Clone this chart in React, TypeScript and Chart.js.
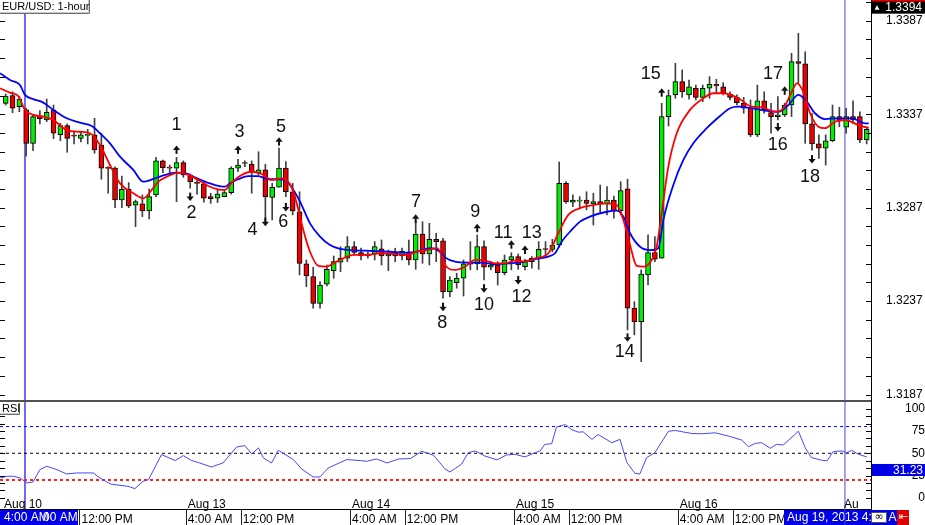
import React, { useEffect, useRef } from 'react';
import { Chart, registerables } from 'chart.js';

Chart.register(...registerables);

// ---------------- data (EUR/USD 1-hour candles, index 0..126) ----------------
const opens = [1.33428,1.33469,1.33410,1.33393,1.33214,1.33360,1.33339,1.33393,1.33260,1.33309,
1.33256,1.33241,1.33257,1.33259,1.33205,1.33081,1.33081,1.32911,1.32968,1.32883,
1.32890,1.32852,1.32938,1.33120,1.33082,1.33081,1.33111,1.33041,1.33001,1.32997,
1.32929,1.32920,1.32929,1.32950,1.33081,1.33106,1.33102,1.33054,1.33072,1.32925,
1.32979,1.33081,1.32955,1.32848,1.32569,1.32501,1.32358,1.32460,1.32533,1.32578,
1.32599,1.32661,1.32629,1.32611,1.32622,1.32649,1.32611,1.32626,1.32611,1.32629,
1.32590,1.32729,1.32622,1.32701,1.32693,1.32420,1.32469,1.32492,1.32569,1.32569,
1.32661,1.32551,1.32563,1.32522,1.32590,1.32608,1.32554,1.32581,1.32599,1.32647,
1.32647,1.32670,1.33000,1.32899,1.32905,1.32911,1.32890,1.32902,1.32890,1.32911,
1.32854,1.32970,1.32332,1.32260,1.32510,1.32629,1.32599,1.33357,1.33473,1.33544,
1.33473,1.33509,1.33460,1.33509,1.33530,1.33517,1.33478,1.33460,1.33428,1.33402,
1.33259,1.33441,1.33378,1.33357,1.33366,1.33419,1.33651,1.33639,1.33318,1.33211,
1.33188,1.33228,1.33357,1.33300,1.33357,1.33357,1.33232];

const highs = [1.33478,1.33490,1.33464,1.33402,1.33366,1.33389,1.33451,1.33419,1.33321,1.33318,
1.33280,1.33276,1.33289,1.33348,1.33268,1.33089,1.33089,1.33039,1.33004,1.32911,
1.32938,1.32970,1.33139,1.33125,1.33098,1.33139,1.33120,1.33050,1.33027,1.33009,
1.32947,1.32965,1.32965,1.33089,1.33129,1.33120,1.33120,1.33169,1.33102,1.33000,
1.33188,1.33116,1.33000,1.32955,1.32590,1.32551,1.32474,1.32563,1.32611,1.32661,
1.32715,1.32688,1.32653,1.32634,1.32688,1.32697,1.32643,1.32653,1.32653,1.32697,
1.32795,1.32795,1.32786,1.32733,1.32706,1.32501,1.32519,1.32590,1.32688,1.32724,
1.32693,1.32581,1.32581,1.32617,1.32629,1.32622,1.32594,1.32608,1.32688,1.32688,
1.32701,1.33114,1.33009,1.32938,1.32929,1.32955,1.32947,1.32991,1.32982,1.32932,
1.33009,1.33022,1.32367,1.32537,1.32724,1.32715,1.33428,1.33500,1.33642,1.33607,
1.33553,1.33526,1.33526,1.33571,1.33557,1.33539,1.33490,1.33473,1.33460,1.33446,
1.33526,1.33490,1.33428,1.33464,1.33428,1.33696,1.33803,1.33704,1.33375,1.33259,
1.33259,1.33419,1.33407,1.33402,1.33441,1.33383,1.33303];

const lows = [1.33419,1.33378,1.33383,1.33146,1.33175,1.33318,1.33330,1.33239,1.33228,1.33166,
1.33211,1.33221,1.33211,1.33161,1.33022,1.32947,1.32870,1.32870,1.32870,1.32768,
1.32822,1.32809,1.32929,1.33057,1.33054,1.32902,1.33032,1.32974,1.32942,1.32899,
1.32893,1.32897,1.32929,1.32942,1.33062,1.33089,1.32947,1.33045,1.32790,1.32804,
1.32979,1.32929,1.32831,1.32510,1.32447,1.32332,1.32332,1.32451,1.32492,1.32527,
1.32581,1.32617,1.32590,1.32599,1.32590,1.32563,1.32533,1.32581,1.32590,1.32563,
1.32540,1.32572,1.32563,1.32581,1.32385,1.32394,1.32439,1.32397,1.32537,1.32537,
1.32483,1.32537,1.32456,1.32510,1.32537,1.32540,1.32537,1.32546,1.32540,1.32604,
1.32634,1.32658,1.32893,1.32875,1.32867,1.32858,1.32777,1.32840,1.32831,1.32813,
1.32831,1.32216,1.32189,1.32046,1.32456,1.32581,1.32599,1.33307,1.33455,1.33460,
1.33450,1.33446,1.33437,1.33455,1.33482,1.33473,1.33446,1.33419,1.33375,1.33250,
1.33250,1.33375,1.33268,1.33339,1.33357,1.33357,1.33535,1.33214,1.33178,1.33134,
1.33098,1.33223,1.33303,1.33268,1.33321,1.33218,1.33211];

const closes = [1.33467,1.33402,1.33451,1.33214,1.33357,1.33346,1.33380,1.33268,1.33309,1.33241,
1.33253,1.33259,1.33259,1.33179,1.33081,1.33080,1.32911,1.32968,1.32879,1.32902,
1.32852,1.32929,1.33120,1.33084,1.33081,1.33111,1.33045,1.33009,1.33000,1.32920,
1.32918,1.32942,1.32950,1.33081,1.33098,1.33107,1.33059,1.33072,1.32929,1.32979,
1.33081,1.32955,1.32852,1.32572,1.32504,1.32358,1.32456,1.32540,1.32581,1.32599,
1.32661,1.32631,1.32611,1.32622,1.32661,1.32611,1.32622,1.32611,1.32638,1.32590,
1.32729,1.32622,1.32701,1.32688,1.32420,1.32483,1.32492,1.32569,1.32568,1.32661,
1.32551,1.32563,1.32522,1.32590,1.32608,1.32563,1.32581,1.32599,1.32647,1.32646,
1.32670,1.33000,1.32902,1.32911,1.32906,1.32893,1.32902,1.32890,1.32911,1.32854,
1.32961,1.32332,1.32260,1.32514,1.32629,1.32594,1.33357,1.33469,1.33544,1.33490,
1.33517,1.33460,1.33509,1.33530,1.33521,1.33482,1.33460,1.33432,1.33402,1.33259,
1.33441,1.33393,1.33357,1.33366,1.33419,1.33651,1.33642,1.33318,1.33211,1.33188,
1.33228,1.33357,1.33339,1.33357,1.33339,1.33232,1.33289];

// moving averages: [candle index, price]
const emaFast: [number, number][] = [[-0.83,1.33509],[0.63,1.33485],[1.84,1.33467],[2.82,1.33393],[4.04,1.33366],[5.5,1.33357],[6.97,1.33339],[8.93,1.33285],[10.87,1.33276],[12.34,1.33268],[13.8,1.33205],[15.26,1.33098],[16.73,1.33000],[18.67,1.32947],[20.14,1.32920],[21.37,1.32965],[22.33,1.33009],[23.8,1.33039],[25.26,1.33057],[26.72,1.33045],[28.19,1.33018],[29.65,1.32986],[31.11,1.32968],[32.09,1.32965],[33.07,1.33004],[34.54,1.33045],[36.0,1.33062],[37.47,1.33050],[38.93,1.33018],[40.39,1.33027],[41.86,1.32979],[42.59,1.32893],[43.55,1.32750],[44.53,1.32634],[45.75,1.32558],[46.98,1.32554],[47.94,1.32572],[49.41,1.32599],[50.87,1.32617],[52.83,1.32617],[54.78,1.32626],[56.73,1.32622],[58.69,1.32617],[60.15,1.32634],[61.61,1.32643],[63.08,1.32653],[63.56,1.32634],[64.29,1.32563],[65.76,1.32537],[67.22,1.32554],[68.68,1.32590],[70.15,1.32586],[71.61,1.32572],[73.07,1.32572],[74.54,1.32586],[76.0,1.32581],[77.46,1.32599],[79.41,1.32626],[80.87,1.32733],[82.33,1.32831],[84.05,1.32867],[85.99,1.32884],[87.95,1.32893],[89.42,1.32884],[90.39,1.32804],[91.37,1.32670],[92.35,1.32558],[93.31,1.32554],[94.54,1.32590],[95.27,1.32661],[96.0,1.32840],[96.97,1.33089],[98.2,1.33268],[100.15,1.33393],[102.1,1.33455],[103.56,1.33482],[105.02,1.33482],[107.22,1.33455],[109.18,1.33410],[110.64,1.33407],[112.59,1.33383],[113.81,1.33402],[115.03,1.33490],[115.76,1.33535],[116.73,1.33490],[117.71,1.33375],[118.93,1.33303],[119.9,1.33295],[121.37,1.33330],[122.83,1.33339],[124.78,1.33312],[126.3,1.33295]];

const emaSlow: [number, number][] = [[-0.83,1.33589],[0.63,1.33553],[2.09,1.33526],[2.82,1.33473],[4.04,1.33451],[5.5,1.33432],[6.97,1.33393],[8.93,1.33348],[10.87,1.33325],[12.59,1.33307],[13.8,1.33268],[15.26,1.33214],[16.73,1.33143],[18.67,1.33072],[20.14,1.33009],[21.85,1.33027],[23.31,1.33045],[24.78,1.33057],[26.24,1.33054],[27.7,1.33032],[29.17,1.33009],[30.63,1.32991],[32.09,1.32982],[32.83,1.33000],[34.04,1.33022],[35.5,1.33039],[36.97,1.33039],[38.43,1.33022],[39.89,1.33022],[40.88,1.33018],[41.61,1.32991],[43.07,1.32902],[44.53,1.32786],[46.0,1.32715],[47.46,1.32670],[48.92,1.32649],[50.39,1.32643],[53.8,1.32638],[56.24,1.32634],[58.69,1.32629],[60.15,1.32634],[62.1,1.32653],[63.56,1.32634],[64.29,1.32604],[65.76,1.32581],[67.7,1.32576],[69.66,1.32576],[71.61,1.32567],[73.56,1.32572],[75.52,1.32578],[77.46,1.32594],[79.41,1.32608],[80.39,1.32626],[81.37,1.32688],[82.83,1.32751],[84.05,1.32795],[85.5,1.32822],[87.96,1.32848],[89.42,1.32854],[90.39,1.32822],[91.37,1.32733],[92.83,1.32661],[94.29,1.32643],[95.5,1.32653],[96.24,1.32804],[97.7,1.32991],[99.17,1.33125],[100.63,1.33214],[102.59,1.33295],[104.54,1.33360],[106.0,1.33402],[107.22,1.33410],[109.18,1.33402],[111.13,1.33389],[113.07,1.33383],[114.54,1.33419],[116.0,1.33473],[117.23,1.33437],[118.44,1.33375],[119.9,1.33344],[121.85,1.33348],[123.81,1.33348],[125.76,1.33321],[126.3,1.33321]];

// RSI: [candle index, value]
const rsiPoints: [number, number][] = [[-0.8,22.3],[0.2,24.2],[1.1,24.2],[2.1,22.3],[3.1,16.7],[4.0,17.8],[5.0,31.6],[6.0,35.4],[7.5,31.6],[8.9,26.8],[10.4,27.9],[12.8,27.9],[13.8,22.3],[15.3,15.5],[16.7,14.0],[17.9,12.9],[18.9,10.3],[20.1,18.5],[20.9,20.4],[22.8,48.5],[24.8,41.8],[26.0,47.4],[27.2,41.8],[28.4,39.1],[30.1,34.6],[31.8,39.1],[33.8,57.1],[35.0,58.6],[36.0,49.3],[37.0,56.0],[37.7,44.8],[38.9,39.1],[39.9,53.4],[42.1,42.9],[43.3,32.4],[45.0,23.4],[46.0,23.4],[47.2,33.5],[49.9,42.9],[51.9,41.8],[52.8,41.0],[54.3,43.6],[55.8,39.1],[57.5,43.6],[59.2,44.0],[60.9,52.2],[62.6,47.8],[64.3,32.4],[65.0,29.0],[65.8,33.0],[66.7,37.8],[67.7,50.7],[68.7,52.6],[70.1,47.0],[71.9,42.6],[73.3,48.1],[74.5,48.9],[76.0,45.9],[77.5,50.7],[78.2,52.6],[78.9,60.0],[79.9,60.7],[80.6,79.6],[81.9,82.2],[82.8,76.7],[83.8,73.7],[84.5,74.1],[85.8,65.6],[86.7,71.1],[88.7,61.9],[89.9,65.6],[90.9,39.6],[92.1,27.4],[92.8,26.7],[93.8,45.2],[95.0,50.7],[97.0,74.8],[98.0,75.6],[100.4,72.2],[101.9,71.9],[103.8,73.0],[105.8,69.3],[107.7,64.8],[108.7,57.4],[109.7,61.1],[110.6,61.9],[111.9,55.6],[112.8,60.0],[113.8,59.3],[116.0,74.8],[117.0,56.3],[117.9,45.2],[119.4,42.2],[120.2,41.5],[121.1,51.9],[122.4,52.6],[123.1,50.7],[123.8,53.3],[124.8,48.9],[126.0,45.9]];
const rsiLevels = [80, 50, 20];
const rsiLevelColors = ['#0000ff', '#000000', '#ff2020'];
const rsiLevelWidths = [1, 1, 2];
const rsiMarkerValue = 31.23;

// numbered annotations
const annLabels = ['1','2','3','4','5','6','7','8','9','10','11','12','13','14','15','16','17','18'];
const annDirs = ['up','down','up','down','up','down','up','down','up','down','up','down','up','down','up','down','up','down'];
const annArrowIdx = [25,27,34,38,40,41,60,64,69,70,74,75,76,91,96,113,114,118];
const annArrowPrice = [1.33179,1.32929,1.33179,1.32795,1.33223,1.32874,1.32810,1.32340,1.32760,1.32439,1.32672,1.32483,1.32643,1.32176,1.33485,1.33302,1.33495,1.33130];
const annTextIdx = [25.0,27.2,34.2,36.1,40.3,40.6,60.05,63.9,68.7,70.0,72.8,75.5,77.0,90.6,94.4,113.0,112.3,117.7];
const annTextPrice = [1.33312,1.32840,1.33276,1.32751,1.33300,1.32795,1.32902,1.32251,1.32848,1.32349,1.32736,1.32394,1.32736,1.32099,1.33584,1.33205,1.33585,1.33032];

// axes
const priceTickStart = 1.3187;
const priceTickStep = 0.001;
const priceTickCount = 22;
const priceLabels = ['1.3187', '1.3237', '1.3287', '1.3337', '1.3387'];
const priceMarker = 1.3394;
const askMarker = 1.34003;
const rsiTickStep = 100 / 12;
const rsiTickCount = 13;
const rsiLabels = ['0', '25', '50', '75', '100'];
const timeTickIdx = [10.8, 26.35, 34.4, 50.4, 58.4, 74.4, 82.4, 98.35, 106.4];
const timeTickLabels = ['12:00 PM','4:00 AM','12:00 PM','4:00 AM','12:00 PM','4:00 AM','12:00 PM','4:00 AM','12:00 PM'];
const dateLabelIdx = [-0.54, 26.35, 50.4, 74.4, 98.35, 122.4];
const dateLabels = ['Aug 10', 'Aug 13', 'Aug 14', 'Aug 15', 'Aug 16', 'Au'];
const cursorIdx = [2.82, 122.82];
const cursorColors = ['#6a6af0', '#4444ee'];
const cursorWidths = [2, 1];

const X_MIN = -0.834;
const X_MAX = 126.63;
const P_MIN = 1.3183;
const P_MAX = 1.33981;
const R_MIN = -12.6;
const R_MAX = 107.6;
const FONT = '"Liberation Sans", Arial, sans-serif';
const GREEN = '#00ee00';
const RED = '#ee0000';

function drawArrow(ctx: CanvasRenderingContext2D, x: number, y: number, dir: string) {
  ctx.beginPath();
  if (dir === 'up') {
    ctx.moveTo(x, y - 4.5);
    ctx.lineTo(x - 3.6, y);
    ctx.lineTo(x + 3.6, y);
  } else {
    ctx.moveTo(x, y + 4.5);
    ctx.lineTo(x - 3.6, y);
    ctx.lineTo(x + 3.6, y);
  }
  ctx.closePath();
  ctx.fill();
  if (dir === 'up') ctx.fillRect(x - 1, y - 0.5, 2, 4.5);
  else ctx.fillRect(x - 1, y - 4, 2, 4.5);
}

function labelBox(ctx: CanvasRenderingContext2D, x: number, y: number, w: number, h: number, text: string) {
  ctx.fillStyle = '#ffffff';
  ctx.fillRect(x, y, w, h);
  ctx.strokeStyle = '#6e6e6e';
  ctx.lineWidth = 1;
  ctx.beginPath();
  ctx.moveTo(x + w - 0.5, y);
  ctx.lineTo(x + w - 0.5, y + h - 0.5);
  ctx.lineTo(x, y + h - 0.5);
  ctx.stroke();
  ctx.strokeStyle = '#c8c8c8';
  ctx.beginPath();
  ctx.moveTo(x + w - 1.5, y);
  ctx.lineTo(x + w - 1.5, y + h - 1.5);
  ctx.lineTo(x, y + h - 1.5);
  ctx.stroke();
  ctx.fillStyle = '#000';
  ctx.font = '11px ' + FONT;
  ctx.textAlign = 'left';
  ctx.textBaseline = 'middle';
  ctx.fillText(text, x + 2, y + h / 2);
}

function drawCursors(chart: any) {
  const { ctx, chartArea, scales } = chart;
  ctx.save();
  cursorIdx.forEach((k, i) => {
    const x = scales.x.getPixelForValue(k);
    ctx.strokeStyle = cursorColors[i];
    ctx.lineWidth = cursorWidths[i];
    ctx.beginPath();
    ctx.moveTo(x, chartArea.top);
    ctx.lineTo(x, chartArea.bottom);
    ctx.stroke();
  });
  ctx.restore();
}

const mainDecor = {
  id: 'mainDecor',
  beforeDatasetsDraw(chart: any) {
    drawCursors(chart);
  },
  afterDraw(chart: any) {
    const { ctx, chartArea, scales } = chart;
    const ys = scales.y;
    const xs = scales.x;
    ctx.save();
    ctx.fillStyle = '#000';
    for (let j = 0; j < priceTickCount; j++) {
      const y = Math.round(ys.getPixelForValue(priceTickStart + j * priceTickStep));
      ctx.fillRect(0, y, 5, 1);
      ctx.fillRect(chartArea.right - 5, y, 5, 1);
    }
    ctx.fillStyle = '#505050';
    ctx.fillRect(0, chartArea.bottom - 2, chartArea.right, 2);
    ctx.fillStyle = '#111';
    annLabels.forEach((t, i) => {
      drawArrow(ctx, xs.getPixelForValue(annArrowIdx[i]), ys.getPixelForValue(annArrowPrice[i]), annDirs[i]);
    });
    ctx.font = '18px ' + FONT;
    ctx.textAlign = 'center';
    ctx.textBaseline = 'middle';
    annLabels.forEach((t, i) => {
      ctx.fillText(t, xs.getPixelForValue(annTextIdx[i]), ys.getPixelForValue(annTextPrice[i]));
    });
    labelBox(ctx, 0, 0, 90, 14, 'EUR/USD: 1-hour');
    const ya = ys.getPixelForValue(askMarker);
    ctx.fillStyle = '#e00000';
    ctx.fillRect(chartArea.right + 1, ya - 6.5, 54, 13);
    ctx.fillStyle = '#fff';
    ctx.font = '12px ' + FONT;
    ctx.textAlign = 'right';
    ctx.fillText(askMarker.toFixed(4), 922, ya);
    const ym = ys.getPixelForValue(priceMarker);
    ctx.fillStyle = '#000';
    ctx.fillRect(chartArea.right + 1, ym - 6, 54, 12);
    ctx.fillStyle = '#fff';
    ctx.fillText(priceMarker.toFixed(4), 922, ym + 0.5);
    ctx.beginPath();
    ctx.moveTo(877, ym - 2.5);
    ctx.lineTo(874.5, ym + 2);
    ctx.lineTo(879.5, ym + 2);
    ctx.closePath();
    ctx.fill();
    ctx.restore();
  },
};

const rsiDecor = {
  id: 'rsiDecor',
  beforeDatasetsDraw(chart: any) {
    drawCursors(chart);
  },
  afterDraw(chart: any) {
    const { ctx, chartArea, scales } = chart;
    const xs = scales.x;
    const ys = scales.y;
    ctx.save();
    ctx.fillStyle = '#000';
    for (let j = 0; j < rsiTickCount; j++) {
      const y = Math.round(ys.getPixelForValue(j * rsiTickStep));
      ctx.fillRect(0, y, 5, 1);
      ctx.fillRect(chartArea.right - 5, y, 5, 1);
    }
    ctx.font = '12px ' + FONT;
    ctx.textAlign = 'left';
    ctx.textBaseline = 'alphabetic';
    dateLabelIdx.forEach((k, i) => {
      ctx.fillText(dateLabels[i], xs.getPixelForValue(k) + 2, chartArea.bottom - 1.5);
    });
    ctx.fillStyle = '#222';
    timeTickIdx.forEach((k) => {
      const x = Math.round(xs.getPixelForValue(k));
      ctx.fillRect(x, chartArea.bottom, 1, chart.height - chartArea.bottom);
    });
    labelBox(ctx, 0, 1, 20, 12, 'RSI');
    const yv = ys.getPixelForValue(rsiMarkerValue);
    ctx.fillStyle = '#0000e6';
    ctx.fillRect(chartArea.right + 1, yv - 6, 54, 12);
    ctx.fillStyle = '#fff';
    ctx.font = '12px ' + FONT;
    ctx.textAlign = 'right';
    ctx.textBaseline = 'middle';
    ctx.fillText(rsiMarkerValue.toFixed(2), 923, yv + 0.5);
    const rowTop = chartArea.bottom + 1;
    const rowH = chart.height - rowTop;
    ctx.fillStyle = '#0000e6';
    ctx.fillRect(0, rowTop, 78, rowH);
    ctx.fillStyle = '#fff';
    ctx.textAlign = 'left';
    ctx.fillText('4:00 AM', 4, rowTop + rowH / 2 + 0.5);
    ctx.fillText('00 AM', 43, rowTop + rowH / 2 + 0.5);
    ctx.fillStyle = '#0000e6';
    ctx.fillRect(784, rowTop, 113, rowH);
    ctx.save();
    ctx.beginPath();
    ctx.rect(784, rowTop, 113, rowH);
    ctx.clip();
    ctx.fillStyle = '#fff';
    ctx.fillText('Aug 19, 2013 4:00 AM', 787, rowTop + rowH / 2 + 0.5);
    ctx.restore();
    ctx.fillStyle = '#fff';
    ctx.fillRect(871, rowTop + 2, 16, rowH - 4);
    ctx.strokeStyle = '#555';
    ctx.lineWidth = 1;
    ctx.strokeRect(871.5, rowTop + 2.5, 15, rowH - 5);
    ctx.fillStyle = '#000';
    ctx.font = '11px "DejaVu Sans", sans-serif';
    ctx.textAlign = 'center';
    ctx.fillText('\u221E', 879, rowTop + rowH / 2);
    ctx.fillStyle = '#e00000';
    ctx.fillRect(897, rowTop, 12, rowH);
    ctx.fillStyle = '#fff';
    ctx.fillText('\u21E4', 903, rowTop + rowH / 2);
    const xc = xs.getPixelForValue(cursorIdx[1]);
    ctx.strokeStyle = cursorColors[1];
    ctx.lineWidth = cursorWidths[1];
    ctx.beginPath();
    ctx.moveTo(xc, chartArea.bottom);
    ctx.lineTo(xc, chart.height);
    ctx.stroke();
    ctx.restore();
  },
};

export default function App() {
  const mainRef = useRef<HTMLCanvasElement>(null);
  const rsiRef = useRef<HTMLCanvasElement>(null);

  useEffect(() => {
    const idx = opens.map((_, i) => i);
    const main = new Chart(mainRef.current as HTMLCanvasElement, {
      type: 'bar',
      data: {
        datasets: [
          {
            type: 'line',
            label: 'EMA fast',
            data: emaFast.map(([x, y]) => ({ x, y })),
            borderColor: '#ff0000',
            borderWidth: 1.8,
            pointRadius: 0,
            cubicInterpolationMode: 'monotone',
            order: 0,
          } as any,
          {
            type: 'line',
            label: 'EMA slow',
            data: emaSlow.map(([x, y]) => ({ x, y })),
            borderColor: '#0000ff',
            borderWidth: 1.8,
            pointRadius: 0,
            cubicInterpolationMode: 'monotone',
            order: 0,
          } as any,
          {
            type: 'bar',
            label: 'body',
            data: idx.map((i) => ({ x: i, y: [opens[i], closes[i]] })),
            backgroundColor: idx.map((i) => (closes[i] >= opens[i] ? GREEN : RED)),
            borderColor: '#000',
            borderWidth: 1,
            borderSkipped: false,
            barThickness: 5,
            minBarLength: 1,
            grouped: false,
            order: 1,
          } as any,
          {
            type: 'bar',
            label: 'wick',
            data: idx.map((i) => ({ x: i, y: [lows[i], highs[i]] })),
            backgroundColor: '#404040',
            borderWidth: 0,
            barThickness: 1,
            grouped: false,
            order: 2,
          } as any,
        ],
      },
      options: {
        animation: false,
        responsive: false,
        maintainAspectRatio: false,
        events: [],
        layout: { padding: 0, autoPadding: false } as any,
        plugins: { legend: { display: false }, tooltip: { enabled: false } },
        scales: {
          x: { type: 'linear', min: X_MIN, max: X_MAX, offset: false, display: false, bounds: 'data' } as any,
          y: {
            type: 'linear',
            position: 'right',
            min: P_MIN,
            max: P_MAX,
            bounds: 'data',
            afterBuildTicks: (s: any) => {
              const t = [];
              for (let j = 0; j < priceTickCount; j++) t.push({ value: priceTickStart + j * priceTickStep });
              s.ticks = t;
            },
            afterFit: (s: any) => {
              s.width = 54;
              s.paddingTop = 0;
              s.paddingBottom = 0;
            },
            ticks: {
              autoSkip: false,
              padding: 15,
              color: '#000',
              font: { family: FONT, size: 12 },
              crossAlign: 'near',
              callback: (v: any) => {
                const s = Number(v).toFixed(4);
                return priceLabels.includes(s) ? s : '';
              },
            },
            grid: { display: false, drawTicks: false, drawOnChartArea: false },
            border: { display: true, color: '#000', width: 1 },
          } as any,
        },
      },
      plugins: [mainDecor],
    });

    const rsi = new Chart(rsiRef.current as HTMLCanvasElement, {
      type: 'line',
      data: {
        datasets: [
          {
            label: 'RSI',
            data: rsiPoints.map(([x, y]) => ({ x, y })),
            borderColor: '#4646ff',
            borderWidth: 1,
            pointRadius: 0,
            tension: 0,
            order: 0,
          },
          ...rsiLevels.map((lv, i) => ({
            label: 'level ' + lv,
            data: [{ x: X_MIN, y: lv }, { x: X_MAX, y: lv }],
            borderColor: rsiLevelColors[i],
            borderWidth: rsiLevelWidths[i],
            borderDash: [3, 3],
            pointRadius: 0,
            order: 1,
          })),
        ] as any,
      },
      options: {
        animation: false,
        responsive: false,
        maintainAspectRatio: false,
        events: [],
        layout: { padding: 0, autoPadding: false } as any,
        plugins: { legend: { display: false }, tooltip: { enabled: false } },
        scales: {
          x: {
            type: 'linear',
            position: 'bottom',
            min: X_MIN,
            max: X_MAX,
            offset: false,
            bounds: 'data',
            afterBuildTicks: (s: any) => {
              s.ticks = timeTickIdx.map((v) => ({ value: v }));
            },
            afterFit: (s: any) => {
              s.height = 16;
              s.paddingLeft = 0;
              s.paddingRight = 0;
            },
            ticks: {
              autoSkip: false,
              maxRotation: 0,
              minRotation: 0,
              align: 'start',
              labelOffset: 2,
              padding: 3,
              color: '#000',
              font: { family: FONT, size: 12 },
              callback: (_v: any, i: number) => timeTickLabels[i],
            },
            grid: { display: false, drawTicks: false, drawOnChartArea: false },
            border: { display: true, color: '#000', width: 1 },
          } as any,
          y: {
            type: 'linear',
            position: 'right',
            min: R_MIN,
            max: R_MAX,
            bounds: 'data',
            afterBuildTicks: (s: any) => {
              const t = [];
              for (let j = 0; j < rsiTickCount; j++) t.push({ value: j * rsiTickStep });
              s.ticks = t;
            },
            afterFit: (s: any) => {
              s.width = 54;
              s.paddingTop = 0;
              s.paddingBottom = 0;
            },
            ticks: {
              autoSkip: false,
              padding: 16,
              color: '#000',
              font: { family: FONT, size: 12 },
              crossAlign: 'far',
              callback: (v: any) => {
                const s = String(Math.round(Number(v)));
                return rsiLabels.includes(s) && Math.abs(Number(v) - Math.round(Number(v))) < 0.01 ? s : '';
              },
            },
            grid: { display: false, drawTicks: false, drawOnChartArea: false },
            border: { display: true, color: '#000', width: 1 },
          } as any,
        },
      },
      plugins: [rsiDecor],
    });

    return () => {
      main.destroy();
      rsi.destroy();
    };
  }, []);

  return (
    <div style={{ position: 'fixed', left: 0, top: 0, width: 925, height: 525, background: '#fff', overflow: 'hidden' }}>
      <canvas ref={mainRef} width={925} height={402} style={{ position: 'absolute', left: 0, top: 0, width: 925, height: 402 }} />
      <canvas ref={rsiRef} width={925} height={123} style={{ position: 'absolute', left: 0, top: 402, width: 925, height: 123 }} />
    </div>
  );
}
